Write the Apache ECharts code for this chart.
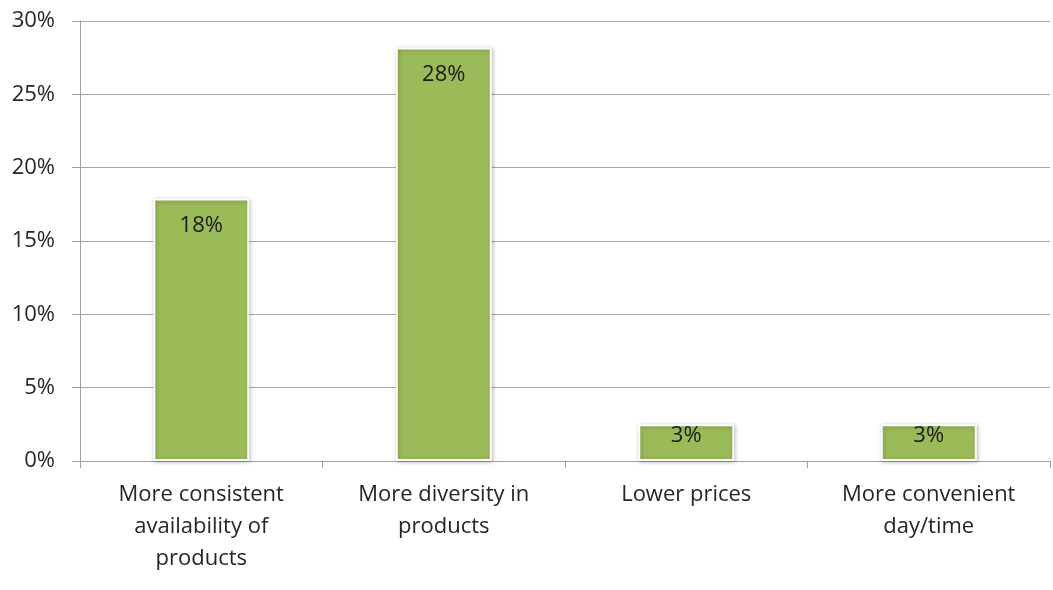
<!DOCTYPE html>
<html>
<head>
<meta charset="utf-8">
<script src="https://cdn.jsdelivr.net/npm/echarts@6/dist/echarts.min.js"></script>
<style>
	html, body { margin: 0; padding: 0; background: #fff; }
	#main { width: 1053px; height: 590px; }
</style>
</head>
<body>
<div id="main"></div>
<script>
var categories = [
	'More consistent\navailability of\nproducts',
	'More diversity in\nproducts',
	'Lower prices',
	'More convenient\nday/time'
]
var values = [17.9, 28.2, 2.5, 2.5]
var yTicks = [0, 5, 10, 15, 20, 25, 30]

var fontName = '"Open Sans", "DejaVu Sans", sans-serif'

var myChart = echarts.init(document.getElementById('main'))

var barData = values.map(function (v) {
	return {
		value: v,
		label: { distance: v < 5 ? 0 : 16 }
	}
})

var option = {
	animation: false,
	grid: {
		left: 80,
		right: 3,
		top: 21,
		bottom: 129
	},
	xAxis: {
		type: 'category',
		data: categories,
		axisLine: { lineStyle: { color: '#a0a0a0', width: 1 } },
		axisTick: {
			show: true,
			alignWithLabel: false,
			length: 7,
			lineStyle: { color: '#a0a0a0' }
		},
		axisLabel: {
			margin: 18,
			interval: 0,
			color: '#262626',
			fontFamily: fontName,
			fontSize: 22,
			lineHeight: 32
		}
	},
	yAxis: {
		type: 'value',
		min: yTicks[0],
		max: yTicks[yTicks.length - 1],
		interval: 5,
		axisLine: { show: true, lineStyle: { color: '#a0a0a0', width: 1 } },
		axisTick: { show: true, length: 8, lineStyle: { color: '#a0a0a0' } },
		splitLine: { lineStyle: { color: '#a6a6a6', width: 1 } },
		axisLabel: {
			margin: 25,
			color: '#262626',
			fontFamily: fontName,
			fontSize: 22,
			formatter: function (v) { return v + '%' }
		}
	},
	series: [{
		type: 'bar',
		data: barData,
		barWidth: 96,
		itemStyle: {
			color: '#9bbb59',
			borderColor: '#ffffff',
			borderWidth: 2,
			shadowBlur: 4,
			shadowColor: 'rgba(0,0,0,0.25)',
			shadowOffsetX: 1,
			shadowOffsetY: 1
		},
		label: {
			show: true,
			position: 'insideTop',
			color: '#1a1a1a',
			fontFamily: fontName,
			fontSize: 22,
			formatter: function (p) { return Math.round(p.value) + '%' }
		}
	}]
}
myChart.setOption(option)
</script>
</body>
</html>
